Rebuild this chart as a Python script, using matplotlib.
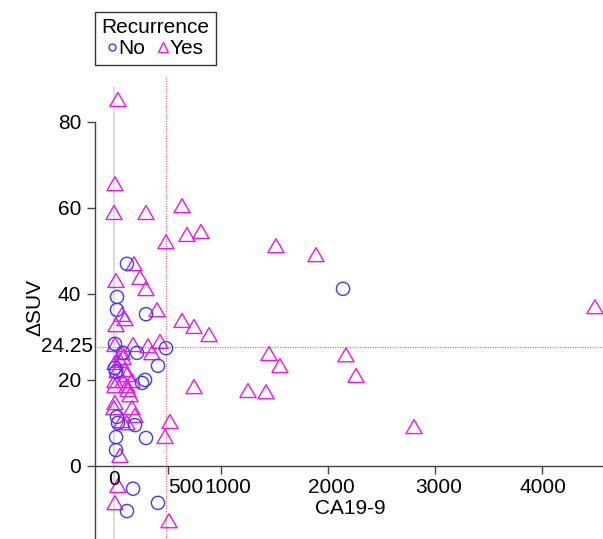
import numpy as np
import matplotlib
matplotlib.use("Agg")
import matplotlib.pyplot as plt
from matplotlib.lines import Line2D
from matplotlib.path import Path

plt.rcParams["font.family"] = ["Liberation Sans", "DejaVu Sans"]

# CA19-9 / delta SUV, patients without recurrence
no_ca = [121, 28, 28, 299, 9, 84, 215, 486, 411, 9, 19, 290, 262, 28, 37, 196,
         299, 19, 19, 2140, 178, 121, 411]
no_suv = [47.0, 39.3, 36.3, 35.3, 28.4, 26.3, 26.3, 27.4, 23.3, 22.8, 21.9, 20.0,
          19.3, 11.4, 10.0, 9.5, 6.5, 6.7, 3.7, 41.2, -5.3, -10.5, -8.6]

# patients with recurrence
yes_ca = [37, 9, 0, 299, 636, 486, 682, 813, 1514, 1888, 187, 243, 299, 19, 4495,
          75, 103, 19, 402, 636, 748, 888, 9, 178, 318, 430, 355, 75, 84, 56, 9,
          28, 103, 121, 9, 168, 121, 150, 748, 1449, 1551, 2168, 2262, 1252, 1421,
          2804, 9, 0, 168, 196, 75, 121, 523, 477, 56, 37, 9, 514, 9, 84, 131]
yes_suv = [84.7, 65.1, 58.4, 58.4, 60.0, 51.6, 53.3, 54.0, 50.7, 48.6, 46.5, 43.3,
           40.7, 42.6, 36.5, 34.7, 33.7, 32.3, 35.8, 33.3, 31.9, 30.0, 27.7, 27.7,
           27.4, 28.4, 25.8, 25.8, 24.7, 24.0, 23.5, 21.6, 21.9, 20.7, 19.3, 19.3,
           18.1, 16.0, 17.9, 25.6, 22.8, 25.3, 20.5, 17.0, 16.7, 8.6, 14.2, 13.0,
           13.0, 11.2, 10.0, 9.5, 9.8, 6.3, 1.9, -5.1, -9.1, -13.3, 18.1, 19.3, 17.2]

cut_ca = 486
cut_suv = 27.7
cut_label = "24.25"

y_ticks = [0, 20, 40, 60, 80]
x_ticks = [500, 1000, 2000, 3000, 4000]
x_labels = ["0", "500", "1000", "2000", "3000", "4000"]

BLUE = "#3b3bff"
MAGENTA = "#ee14ee"
FS = 15

W, H = 603, 539
fig = plt.figure(figsize=(W / 100, H / 100), dpi=100)
ax = fig.add_axes([95 / W, 0, 508 / W, 463 / H])
ax.set_xlim(-177.6, 4570)
ax.set_ylim(-17.0, 90.7)

# R style open triangle, centred on its centroid
tri = Path([(0, 1), (0.866, -0.5), (-0.866, -0.5), (0, 1)], closed=True)

# reference lines
ax.plot([0, 0], [-17, 88], color="#dddddd", lw=1.6, zorder=1)
ax.axvline(cut_ca, color="#ee7070", lw=0.9, ls=(0, (1, 1)), zorder=1)
ax.plot([-160, 4570], [cut_suv, cut_suv], color="#ee7070", lw=0.9, ls=(0, (1, 1)), zorder=1)

ax.scatter(yes_ca, yes_suv, marker=tri, s=180, facecolors="none",
           edgecolors=MAGENTA, linewidths=1.0, zorder=3)
ax.scatter(no_ca, no_suv, marker="o", s=90, facecolors="none",
           edgecolors=BLUE, linewidths=1.0, zorder=3)

# axes in R style
for s in ["top", "right"]:
    ax.spines[s].set_visible(False)
ax.spines["left"].set_bounds(-17, 80)
ax.spines["bottom"].set_position(("data", 0))
for s in ["left", "bottom"]:
    ax.spines[s].set_color("#444444")
    ax.spines[s].set_linewidth(1.0)

ax.set_yticks(y_ticks)
ax.set_xticks(x_ticks)
ax.set_xticklabels([])
ax.tick_params(axis="both", direction="out", length=6, width=1.0, color="#444444",
               labelsize=FS, pad=4)

ax.text(0, -1.0, x_labels[0], fontsize=FS, ha="center", va="top")
ax.text(505, -2.9, x_labels[1], fontsize=FS, ha="left", va="top")
for xv, lab in zip([1060, 2030, 3030, 4010], x_labels[2:]):
    ax.text(xv, -2.9, lab, fontsize=FS, ha="center", va="top")

ax.text(-200, cut_suv, cut_label, fontsize=FS, ha="right", va="center")

fig.text(350 / W, 1 - 509 / H, "CA19-9", fontsize=FS, ha="center", va="center")
fig.text(35 / W, 1 - 307 / H, "\u0394SUV", fontsize=FS, ha="center", va="center",
         rotation=90)

handles = [Line2D([], [], marker="o", ls="none", mfc="none", mec=BLUE, ms=5, mew=1.0),
           Line2D([], [], marker="^", ls="none", mfc="none", mec=MAGENTA, ms=7, mew=1.0)]
leg = fig.legend(handles, ["No", "Yes"], title="Recurrence", ncol=2,
                 loc="upper left", bbox_to_anchor=(95 / W, 1 - 12 / H),
                 fontsize=FS, title_fontsize=FS, frameon=True, fancybox=False,
                 edgecolor="black", handlelength=0.45, handletextpad=0.1,
                 columnspacing=0.6, borderpad=0.3, borderaxespad=0,
                 labelspacing=0.1)
leg.get_frame().set_linewidth(1.0)

plt.savefig("out.png", dpi=100)
